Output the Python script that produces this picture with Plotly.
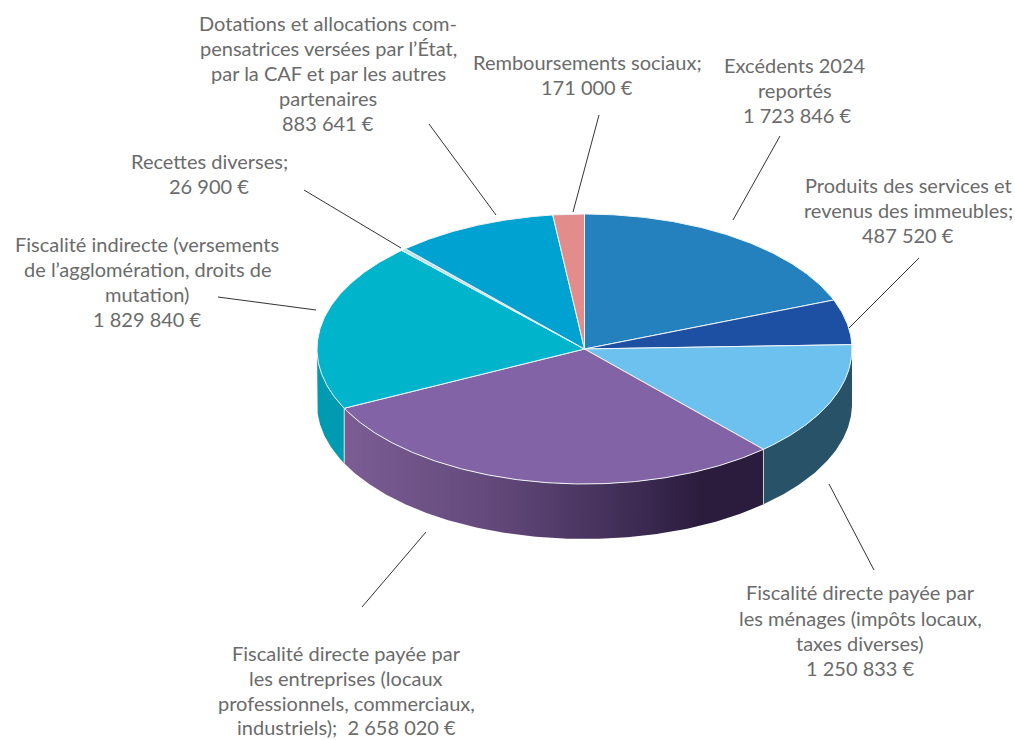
import numpy as np
import plotly.graph_objects as go

categories = ["Excédents 2024 reportés", "Produits des services et revenus des immeubles",
              "Fiscalité directe payée par les ménages", "Fiscalité directe payée par les entreprises",
              "Fiscalité indirecte", "Recettes diverses", "Dotations et allocations compensatrices",
              "Remboursements sociaux"]
values = [1723846, 487520, 1250833, 2658020, 1829840, 26900, 883641, 171000]
top_colors = ["#2481bd", "#1d50a2", "#6dc1ee", "#8263a5", "#00b4cb", "#b9e3f0", "#00a2d2", "#e28d8c"]
wall_colors = ["#1a5f8c", "#143a78", "#275267", "#6a4f88", "#009bb0", "#88a8b0", "#0078a0", "#a86868"]

label_lines = [
    (328, 23, "Dotations et allocations com-"), (328, 48, "pensatrices versées par l’État,"),
    (328, 73, "par la CAF et par les autres"), (328, 98, "partenaires"), (328, 123, "883 641 €"),
    (587, 62, "Remboursements sociaux;"), (587, 87, "171 000 €"),
    (795, 65, "Excédents 2024"), (795, 90, "reportés"), (797, 115, "1 723 846 €"),
    (908, 185, "Produits des services et"), (908, 210, "revenus des immeubles;"), (908, 235, "487 520 €"),
    (209, 161, "Recettes diverses;"), (209, 186, "26 900 €"),
    (147, 244, "Fiscalité indirecte (versements"), (147, 269, "de l’agglomération, droits de"),
    (147, 294, "mutation)"), (147, 319, "1 829 840 €"),
    (860, 592, "Fiscalité directe payée par"), (860, 618, "les ménages (impôts locaux,"),
    (860, 643, "taxes diverses)"), (860, 668, "1 250 833 €"),
    (346, 653, "Fiscalité directe payée par"), (346, 678, "les entreprises (locaux"),
    (346, 703, "professionnels, commerciaux,"), (346, 727, "industriels);  2 658 020 €"),
]
leaders = [
    (429, 124, 496, 215), (599, 115, 573, 212), (780, 136, 733, 220), (919, 258, 849, 328),
    (829, 484, 874, 570), (426, 532, 362, 607), (218, 297, 316, 310), (304, 190, 401, 248),
]

CX, CY, RX, RY, DEPTH = 584.5, 349, 267.5, 135, 55
PURPLE_SCALE = [[0, "#7b5d94"], [0.35, "#63497b"], [0.7, "#3d2b53"], [0.85, "#2b1b3d"], [1, "#2b1b3d"]]


def arc(a0, a1, dy=0):
    t = np.radians(np.linspace(a0, a1, max(3, int(abs(a1 - a0) * 2))))
    return CX + RX * np.sin(t), CY - RY * np.cos(t) + dy


fig = go.Figure()
fractions = np.array(values) / sum(values) * 360
edges = np.concatenate([[0], np.cumsum(fractions)])

# Front walls, only for the lower half of the ellipse
for i, c in enumerate(wall_colors):
    a0, a1 = max(edges[i], 90), min(edges[i + 1], 270)
    if a1 <= a0:
        continue
    x0, y0 = arc(a0, a1)
    x1, y1 = arc(a0, a1, DEPTH)
    xs = np.concatenate([x0, x1[::-1], x0[:1]])
    ys = np.concatenate([y0, y1[::-1], y0[:1]])
    kw = dict(fillcolor=c)
    if i == 3:
        kw = dict(fillgradient=dict(type="horizontal", colorscale=PURPLE_SCALE))
    fig.add_trace(go.Scatter(x=xs, y=ys, mode="lines", fill="toself", line=dict(width=0, color=c),
                             hoverinfo="skip", showlegend=False, **kw))
    for a in (a0, a1):
        if 90 < a < 270:
            xe, ye = arc(a, a + 1e-6)
            fig.add_trace(go.Scatter(x=[xe[0], xe[0]], y=[ye[0], ye[0] + DEPTH], mode="lines",
                                     line=dict(width=1, color="#c9d3d6"), hoverinfo="skip", showlegend=False))

# Top face
for i, c in enumerate(top_colors):
    x, y = arc(edges[i], edges[i + 1])
    xs = np.concatenate([[CX], x, [CX]])
    ys = np.concatenate([[CY], y, [CY]])
    fig.add_trace(go.Scatter(x=xs, y=ys, mode="lines", fill="toself", fillcolor=c, name=categories[i],
                             line=dict(width=1, color="#f1f4f6"), hoverinfo="name", showlegend=False))

shapes = [dict(type="line", xref="x", yref="y", x0=a, y0=b, x1=c, y1=d, line=dict(color="#333333", width=1))
          for a, b, c, d in leaders]
annotations = [dict(x=x, y=y, xref="x", yref="y", text=t, showarrow=False, xanchor="center", yanchor="middle",
                    font=dict(family="Lato", size=20, color="#6b6b6b")) for x, y, t in label_lines]

fig.update_layout(
    width=1015, height=740, margin=dict(l=0, r=0, t=0, b=0),
    paper_bgcolor="white", plot_bgcolor="white", shapes=shapes, annotations=annotations,
    xaxis=dict(range=[0, 1015], visible=False, fixedrange=True),
    yaxis=dict(range=[740, 0], visible=False, fixedrange=True),
)
fig.write_html("out.html", config=dict(displayModeBar=False),
               post_script="document.body.style.margin='0';document.body.style.overflow='hidden';")
